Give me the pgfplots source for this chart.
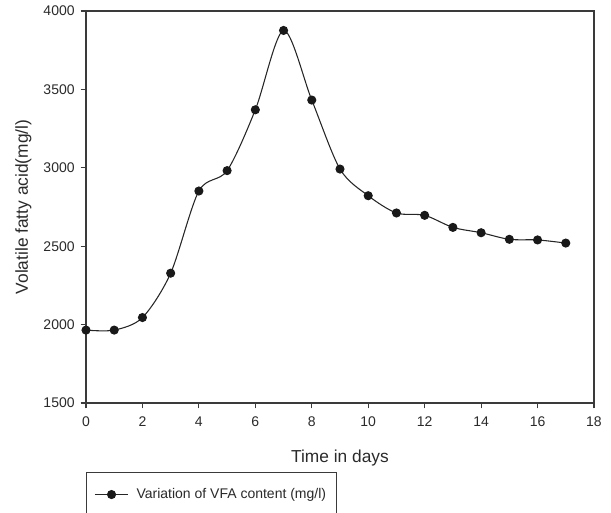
\documentclass[border=0pt]{standalone}
\usepackage{fontspec}
\setmainfont{Liberation Sans}
\usepackage{pgfplots}
\pgfplotsset{compat=1.18}

\definecolor{axisgray}{HTML}{3A3A3A}
\definecolor{textgray}{HTML}{2A2A2A}

\begin{document}
\begin{tikzpicture}[x=1pt,y=1pt]
\begin{axis}[
  at={(0,0)}, anchor=south west,
  scale only axis,
  width=381pt, height=294pt,
  xmin=0, xmax=18, ymin=1500, ymax=4000,
  xtick={0,2,...,18},
  ytick={1500,2000,...,4000},
  xtick pos=left, ytick pos=left,
  tick align=outside,
  major tick length=4pt,
  axis line style={axisgray, line width=0.8pt},
  every tick/.style={axisgray, line width=0.8pt},
  /pgf/number format/assume math mode=true,
  /pgf/number format/set thousands separator={},
  tick label style={font=\fontsize{10.5}{12}\selectfont, text=textgray},
  xticklabel style={yshift=-3pt},
  yticklabel style={xshift=-1pt},
  xlabel={Time in days},
  ylabel={Volatile fatty acid(mg/l)},
  label style={font=\fontsize{13}{15}\selectfont, text=textgray},
  xlabel style={at={(axis description cs:0.5,0)}, anchor=center, yshift=-41pt},
  ylabel style={at={(axis description cs:0,0.5)}, anchor=center, yshift=47pt},
  legend style={
    at={(axis description cs:0,-0.176)}, anchor=north west,
    draw=axisgray, line width=0.7pt,
    font=\fontsize{10.5}{12}\selectfont, text=textgray,
    inner xsep=6pt, inner ysep=10pt,
    column sep=4pt,
    legend cell align=left,
  },
  legend image code/.code={%
    \draw[mark repeat=2,mark phase=2,#1]
      plot coordinates {(0pt,0pt) (12.4pt,0pt) (24.75pt,0pt)};},
]
\addplot[
  color=black!85, line width=0.8pt, smooth, tension=0.5,
  mark=*, mark size=3pt, mark options={fill=black!90, draw=black!90}
] coordinates {
  (0,1965) (1,1965) (2,2045) (3,2328) (4,2852) (5,2982)
  (6,3370) (7,3876) (8,3432) (9,2992) (10,2822) (11,2712)
  (12,2697) (13,2620) (14,2586) (15,2544) (16,2540) (17,2520)
};
\addlegendentry{Variation of VFA content (mg/l)}
\end{axis}
\pgfresetboundingbox
\useasboundingbox (-64.5pt,-81.75pt) rectangle (393.75pt,302.25pt);
\end{tikzpicture}
\end{document}
